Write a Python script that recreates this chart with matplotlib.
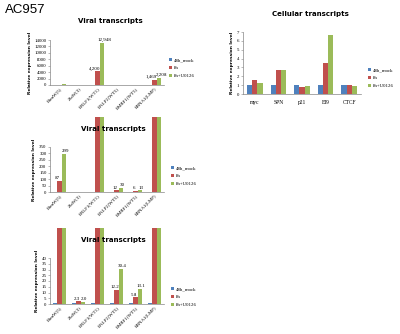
import numpy as np
import matplotlib
matplotlib.use('Agg')
import matplotlib.pyplot as plt
from matplotlib.transforms import Bbox, TransformedBbox
from matplotlib.patches import Patch

# data
viral_genes = ['BamW(5)', 'ZtaW(3)', 'BRLF1(WT1)', 'BALF2(WT5)', 'BMRF1(WT5)', 'EBNA1(LMP)']
mock_48h = [1, 1, 1, 1, 1, 1]
h8 = [87, 2.3, 4200, 12.2, 5.8, 1469]
h8_u0126 = [299, 2.0, 12948, 30.4, 13.1, 2208]

cell_genes = ['myc', 'SPN', 'p21', 'EI9', 'CTCF']
cell_mock = [1, 1, 1, 1, 1]
cell_8h = [1.6, 2.75, 0.75, 3.45, 1.05]
cell_u0126 = [1.25, 2.75, 0.95, 6.65, 0.95]

series_names = ['48h_mock', '8h', '8h+U0126']
colors = ['#4F81BD', '#C0504D', '#9BBB59']

W, H = 400, 334
fig = plt.figure(figsize=(W / 100, H / 100), dpi=100)
fig.patch.set_facecolor('white')

serif = 'Liberation Serif'
gray = '#868686'


def add_ax(x0, y0, x1, y1):
    # pixel box -> figure fractions
    return fig.add_axes([x0 / W, 1 - y1 / H, (x1 - x0) / W, (y1 - y0) / H])


def style(ax, ymax, step):
    for s in ['top', 'right']:
        ax.spines[s].set_visible(False)
    for s in ['left', 'bottom']:
        ax.spines[s].set_color(gray)
        ax.spines[s].set_linewidth(0.5)
    ax.set_ylim(0, ymax)
    ax.set_yticks(np.arange(0, ymax + step / 2, step))
    ax.tick_params(axis='y', length=1.5, width=0.4, color=gray, pad=1, labelsize=3.5)
    ax.tick_params(axis='x', length=0, pad=1, labelsize=3.5)
    for lab in ax.get_yticklabels() + ax.get_xticklabels():
        lab.set_fontfamily(serif)
    ax.set_ylabel('Relative expression level', fontsize=3.2, fontweight='bold', labelpad=2)
    ax.patch.set_alpha(0)


def bars(ax, cats, series, clip_top=None):
    x = np.arange(len(cats))
    w = 0.22
    for i, (vals, c) in enumerate(zip(series, colors)):
        bc = ax.bar(x + (i - 1) * w, vals, w, color=c, edgecolor='none')
        if clip_top is not None:
            # bars run past the plot area, as in the pasted slide
            bb = ax.get_position()
            box = TransformedBbox(Bbox.from_extents(bb.x0, bb.y0, bb.x1, 1 - clip_top / H),
                                  fig.transFigure)
            for p in bc:
                p.set_clip_box(box)
    ax.set_xlim(-0.5, len(cats) - 0.5)
    ax.set_xticks(x)
    ax.set_xticklabels(cats)
    return x, w


def rotate(ax):
    for lab in ax.get_xticklabels():
        lab.set_rotation(45)
        lab.set_ha('right')
        lab.set_rotation_mode('anchor')


def legend(x, y):
    handles = [Patch(facecolor=c, edgecolor='none') for c in colors]
    fig.legend(handles, series_names, loc='center left', bbox_to_anchor=(x / W, 1 - y / H),
               bbox_transform=fig.transFigure, frameon=False,
               handlelength=0.6, handleheight=0.6, handletextpad=0.5, labelspacing=0.75,
               borderpad=0, borderaxespad=0, prop={'family': serif, 'size': 3.5})


def labels(ax, x, w, idx, fmt, dy, nudge=0.09):
    for i in idx:
        for k, vals in ((0, h8), (1, h8_u0126)):
            off = -nudge if k == 0 else nudge
            ax.text(x[i] + k * w + off, vals[i] + dy, fmt(vals[i]), ha='center', va='bottom',
                    fontsize=3.6, fontfamily=serif)


def title(x, y, s):
    fig.text(x / W, 1 - y / H, s, fontsize=5, fontweight='bold', ha='center', va='center')


fig.text(5 / W, 1 - 10 / H, 'AC957', fontsize=9.5, family='Liberation Sans', va='center')

# chart 1: full scale viral
ax1 = add_ax(50, 40, 164, 85)
x, w = bars(ax1, viral_genes, [mock_48h, h8, h8_u0126])
style(ax1, 14000, 2000)
rotate(ax1)
labels(ax1, x, w, [2, 5], lambda v: f'{v:,.0f}', 300, nudge=0.16)
title(110, 21, 'Viral transcripts')
legend(169, 68)

# chart 2: 0-350
ax2 = add_ax(50, 147, 164, 192)
x, w = bars(ax2, viral_genes, [mock_48h, h8, h8_u0126], clip_top=117)
style(ax2, 350, 50)
rotate(ax2)
labels(ax2, x, w, [0, 3, 4], lambda v: f'{v:.0f}', 6)
title(113, 129, 'Viral transcripts')
legend(171, 176)

# chart 3: 0-40
ax3 = add_ax(50, 258, 164, 304)
x, w = bars(ax3, viral_genes, [mock_48h, h8, h8_u0126], clip_top=228)
style(ax3, 40, 5)
rotate(ax3)
labels(ax3, x, w, [1, 3, 4], lambda v: f'{v:.1f}', 0.6)
title(113, 240, 'Viral transcripts')
legend(171, 297)

# chart 4: cellular
ax4 = add_ax(243, 32, 361, 94)
bars(ax4, cell_genes, [cell_mock, cell_8h, cell_u0126])
style(ax4, 7, 1)
ax4.tick_params(axis='x', pad=4, labelsize=4)
title(310, 14, 'Cellular transcripts')
legend(368, 78)

fig.savefig('out.png', dpi=100)
